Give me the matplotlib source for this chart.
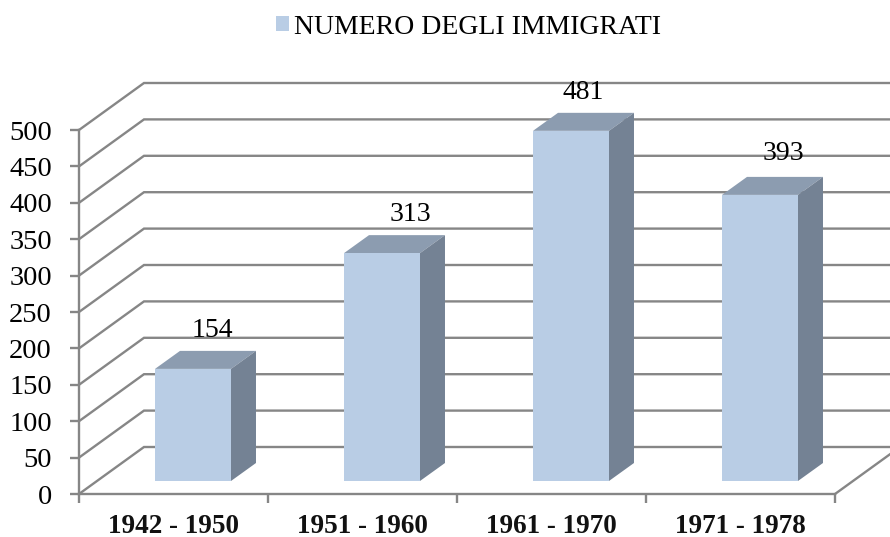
import matplotlib
matplotlib.use("Agg")
import matplotlib.pyplot as plt
from matplotlib.patches import Polygon

periods = ["1942 - 1950", "1951 - 1960", "1961 - 1970", "1971 - 1978"]
immigrants = [154, 313, 481, 393]
y_ticks = list(range(0, 501, 50))
series_name = "NUMERO DEGLI IMMIGRATI"

W, H = 890, 537
LEFT, RIGHT, TOP, BOTTOM = 79, 835, 130, 494      # front plane of the chart, px
BACK_DX, BACK_DY = 65, 47                         # depth of the chart box, px
BAR_DX, BAR_DY = 19.5, 13                         # bar offset from front plane, px
BAR_DEPTH_X, BAR_DEPTH_Y = 25, 18                 # bar depth, px
BAR_WIDTH = 0.402
LABEL_OFFSETS = [(19, 38), (28, 39), (12, 38), (23, 41)]  # data-label offset, px

FRONT, TOPC, SIDE = "#B9CDE5", "#8C9CB0", "#748294"
GRID = "#868686"
SERIF = "Liberation Serif"

plt.rcParams["font.family"] = SERIF
fig = plt.figure(figsize=(W / 100, H / 100), dpi=100)
ax = fig.add_axes([LEFT / W, 1 - BOTTOM / H, (RIGHT - LEFT) / W, (BOTTOM - TOP) / H])
ax.set_xlim(-0.5, len(periods) - 0.5)
ax.set_ylim(0, 500)
ax.patch.set_alpha(0)

px_x = (len(periods)) / (RIGHT - LEFT)   # data units per pixel
px_y = 500 / (BOTTOM - TOP)

def dx(p):
    return p * px_x

def dy(p):
    return p * px_y

# Walls: back-wall gridlines and side-wall diagonals
x0, x1 = ax.get_xlim()
for v in y_ticks:
    ax.plot([x0, x0 + dx(BACK_DX), x1 + dx(BACK_DX)],
            [v, v + dy(BACK_DY), v + dy(BACK_DY)],
            color=GRID, lw=1.7, clip_on=False, zorder=1, solid_joinstyle="miter")
ax.plot([x1, x1 + dx(BACK_DX)], [0, dy(BACK_DY)], color=GRID, lw=1.7, clip_on=False, zorder=1)

# Bars
for i, v in enumerate(immigrants):
    l = i - BAR_WIDTH / 2 + dx(BAR_DX)
    r = i + BAR_WIDTH / 2 + dx(BAR_DX)
    b = dy(BAR_DY)
    t = v + dy(BAR_DY)
    ddx, ddy = dx(BAR_DEPTH_X), dy(BAR_DEPTH_Y)
    ax.add_patch(Polygon([(l, t), (r, t), (r + ddx, t + ddy), (l + ddx, t + ddy)],
                         facecolor=TOPC, edgecolor="none", clip_on=False, zorder=3))
    ax.add_patch(Polygon([(r, b), (r + ddx, b + ddy), (r + ddx, t + ddy), (r, t)],
                         facecolor=SIDE, edgecolor="none", clip_on=False, zorder=3))
    ax.add_patch(Polygon([(l, b), (r, b), (r, t), (l, t)],
                         facecolor=FRONT, edgecolor="none", clip_on=False, zorder=4,
                         label=series_name if i == 0 else None))
    ax.annotate(str(v), xy=((l + r) / 2, t), xytext=LABEL_OFFSETS[i], textcoords="offset pixels",
                ha="center", va="center", fontsize=20, color="black", zorder=5,
                annotation_clip=False)

# Axes
for s in ("top", "right"):
    ax.spines[s].set_visible(False)
for s in ("left", "bottom"):
    ax.spines[s].set_color(GRID)
    ax.spines[s].set_linewidth(1.7)
    ax.spines[s].set_zorder(2)
ax.set_yticks(y_ticks)
ax.set_yticklabels([str(v) for v in y_ticks], fontsize=20.5)
ax.tick_params(axis="y", length=6.5, width=1.7, color=GRID, pad=13)
ax.set_xticks(range(len(periods)))
ax.set_xticklabels(periods, fontsize=19.5, fontweight="bold", color="#111111")
ax.set_xticks([k - 0.5 for k in range(len(periods) + 1)], minor=True)
ax.tick_params(axis="x", which="major", length=0, pad=14.5)
ax.tick_params(axis="x", which="minor", length=6.5, width=1.7, color=GRID)

# Legend
fig.legend(loc="center", bbox_to_anchor=(468.5 / W, 1 - 27 / H), frameon=False,
           handlelength=0.47, handleheight=0.47, handletextpad=0.2, fontsize=20,
           borderpad=0)

fig.savefig("out.png", dpi=100, facecolor="white")
